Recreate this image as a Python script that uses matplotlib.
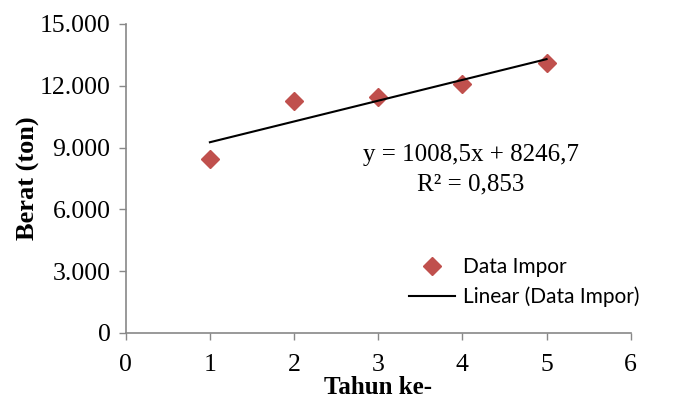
import numpy as np
import matplotlib
matplotlib.use("Agg")
import matplotlib.pyplot as plt
from matplotlib.ticker import FuncFormatter

# Data
tahun = [1, 2, 3, 4, 5]
berat = [8450, 11280, 11440, 12100, 13080]

# Trendline as printed on the chart
slope = 1008.5
intercept = 8246.7
r2_text = "R² = 0,853"
eq_text = "y = 1008,5x + 8246,7"

x_ticks = [0, 1, 2, 3, 4, 5, 6]
y_ticks = [0, 3000, 6000, 9000, 12000, 15000]

serif = ["Liberation Serif", "DejaVu Serif"]
sans = ["Lato", "DejaVu Sans"]

fig = plt.figure(figsize=(6.76, 4.05), dpi=100)
ax = fig.add_axes([0.186, 0.178, 0.747, 0.763])

ax.plot(tahun, berat, linestyle="none", marker="D", markersize=9,
        color="#C0504D", label="Data Impor")

# Linear trendline between first and last year
x_fit = np.array([tahun[0], tahun[-1]])
ax.plot(x_fit, slope * x_fit + intercept, color="black", linewidth=1.5,
        label="Linear (Data Impor)")

ax.set_xlim(0, 6)
ax.set_ylim(0, 15000)
ax.set_xticks(x_ticks)
ax.set_yticks(y_ticks)
ax.yaxis.set_major_formatter(FuncFormatter(lambda v, p: f"{int(v):,}".replace(",", ".")))

for lab in ax.get_xticklabels() + ax.get_yticklabels():
    lab.set_family(serif)
    lab.set_fontsize(18.5)

ax.tick_params(axis="both", color="#888888", length=5, width=1)
ax.tick_params(axis="x", pad=10)
ax.tick_params(axis="y", pad=6)
for side in ["top", "right"]:
    ax.spines[side].set_visible(False)
for side in ["left", "bottom"]:
    ax.spines[side].set_color("#888888")
    ax.spines[side].set_linewidth(1.2)

ax.set_xlabel("Tahun ke-", family=serif, fontsize=18, fontweight="bold", labelpad=0)
ax.set_ylabel("Berat (ton)", family=serif, fontsize=19, fontweight="bold", labelpad=0)

fig.text(471 / 676, 1 - 155 / 405, eq_text, fontsize=18, family=serif,
         ha="center", va="center")
fig.text(471 / 676, 1 - 184 / 405, r2_text, fontsize=18, family=serif,
         ha="center", va="center")

leg = fig.legend(loc="upper left", bbox_to_anchor=(409 / 676, 1 - 257 / 405),
                 frameon=False, prop={"family": sans, "size": 15},
                 handlelength=2.2, handletextpad=0.4, labelspacing=0.45,
                 borderpad=0, borderaxespad=0)

fig.savefig("out.png", dpi=100)
